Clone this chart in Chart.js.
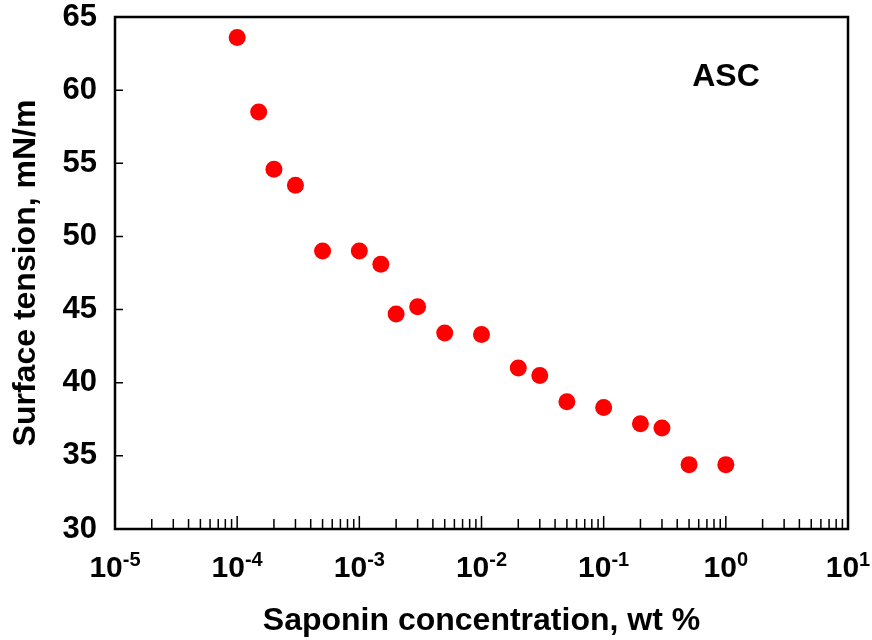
<!DOCTYPE html>
<html>
<head>
<meta charset="utf-8">
<script src="https://cdn.jsdelivr.net/npm/chart.js@4/dist/chart.umd.min.js"></script>
<style>
  body { margin: 0; background: #fff; }
  #wrap { width: 872px; height: 640px; }
</style>
</head>
<body>
<div id="wrap"><canvas id="chart"></canvas></div>
<script>
const concentration = [1e-4, 1.5e-4, 2e-4, 3e-4, 5e-4, 1e-3, 1.5e-3, 2e-3, 3e-3, 5e-3, 1e-2, 2e-2, 3e-2, 5e-2, 1e-1, 2e-1, 3e-1, 5e-1, 1];
const tension = [63.6, 58.5, 54.6, 53.5, 49.0, 49.0, 48.1, 44.7, 45.2, 43.4, 43.3, 41.0, 40.5, 38.7, 38.3, 37.2, 36.9, 34.4, 34.4];
const xExponents = [-5, -4, -3, -2, -1, 0, 1];
const yTicks = [30, 35, 40, 45, 50, 55, 60, 65];
const seriesLabel = 'ASC';

const FONT = '"Liberation Sans", Arial, sans-serif';

// box, inward ticks, 10^n labels and the ASC label
const frame = {
    id: 'frame',
    afterDraw(chart) {
        const { ctx, chartArea: a, scales: { x, y } } = chart;
        ctx.save();
        ctx.strokeStyle = '#000';
        ctx.lineWidth = 1.5;
        ctx.beginPath();
        yTicks.forEach(v => {
            const py = y.getPixelForValue(v);
            ctx.moveTo(a.left, py);
            ctx.lineTo(a.left + 8, py);
        });
        for (let e = xExponents[0]; e <= xExponents[xExponents.length - 1]; e++) {
            for (let k = 1; k <= 9; k++) {
                const v = k * Math.pow(10, e);
                if (v > x.max * 1.0001) break;
                const px = x.getPixelForValue(v);
                ctx.moveTo(px, a.bottom);
                ctx.lineTo(px, a.bottom - (k === 1 ? 13 : 10));
            }
        }
        ctx.stroke();
        ctx.lineWidth = 2.5;
        ctx.strokeRect(a.left, a.top, a.right - a.left, a.bottom - a.top);

        ctx.fillStyle = '#000';
        ctx.textBaseline = 'alphabetic';
        ctx.textAlign = 'left';
        xExponents.forEach(e => {
            const px = x.getPixelForValue(Math.pow(10, e));
            ctx.font = 'bold 30px ' + FONT;
            const wb = ctx.measureText('10').width;
            ctx.font = 'bold 20px ' + FONT;
            const we = ctx.measureText(String(e)).width;
            const left = px - (wb + we) / 2;
            ctx.font = 'bold 30px ' + FONT;
            ctx.fillText('10', left, 577);
            ctx.font = 'bold 20px ' + FONT;
            ctx.fillText(String(e), left + wb, 566);
        });

        ctx.font = 'bold 32px ' + FONT;
        ctx.textAlign = 'center';
        ctx.fillText(seriesLabel, 726, 86);
        ctx.restore();
    }
};

const chart = document.getElementById('chart').getContext('2d');
new Chart(chart, {
    type: 'scatter',
    data: {
        datasets: [{
            label: seriesLabel,
            data: concentration.map((c, i) => ({ x: c, y: tension[i] })),
            backgroundColor: '#FF0000',
            borderWidth: 0,
            pointRadius: 8.5,
            pointHoverRadius: 8.5
        }]
    },
    options: {
        responsive: true,
        maintainAspectRatio: false,
        animation: false,
        layout: { padding: { top: 17, right: 24, left: 0, bottom: 0 } },
        plugins: { legend: { display: false }, tooltip: { enabled: false } },
        scales: {
            x: {
                type: 'logarithmic',
                min: 1e-5,
                max: 10,
                grid: { display: false, drawTicks: false },
                border: { display: false },
                ticks: { display: false },
                title: {
                    display: true,
                    text: 'Saponin concentration, wt %',
                    color: '#000',
                    font: { family: FONT, size: 32, weight: 'bold' },
                    padding: 0
                },
                afterFit(s) { s.height = 111; s.paddingLeft = 0; s.paddingRight = 0; }
            },
            y: {
                min: 30,
                max: 65,
                afterBuildTicks(s) { s.ticks = yTicks.map(v => ({ value: v })); },
                grid: { display: false, drawTicks: false },
                border: { display: false },
                ticks: {
                    color: '#000',
                    padding: 18,
                    font: { family: FONT, size: 31, weight: 'bold' }
                },
                title: {
                    display: true,
                    text: 'Surface tension, mN/m',
                    color: '#000',
                    font: { family: FONT, size: 32, weight: 'bold' },
                    padding: { top: 7, bottom: 0 }
                },
                afterFit(s) { s.width = 115; s.paddingTop = 0; s.paddingBottom = 0; }
            }
        }
    },
    plugins: [frame]
});
</script>
</body>
</html>
